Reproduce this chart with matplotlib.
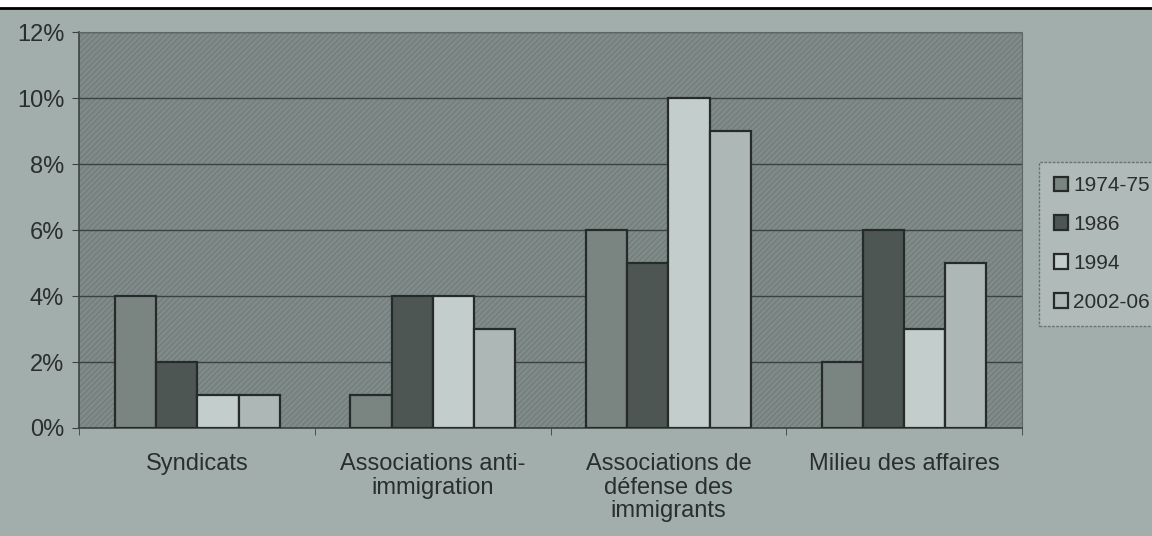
import matplotlib
matplotlib.use('Agg')
import matplotlib.pyplot as plt
from matplotlib.patches import Rectangle
import numpy as np

plt.rcParams['font.family'] = ['Liberation Sans', 'DejaVu Sans']

# données (%)
categories = ['Syndicats', 'Associations anti-\nimmigration',
              'Associations de\ndéfense des\nimmigrants', 'Milieu des affaires']
periods = ['1974-75', '1986', '1994', '2002-06']
v_1974 = [4, 1, 6, 2]
v_1986 = [2, 4, 5, 6]
v_1994 = [1, 4, 10, 3]
v_2002 = [1, 3, 9, 5]
series = [v_1974, v_1986, v_1994, v_2002]

bg = '#a2aeac'
plot_bg = '#808c8a'
bar_colors = ['#7a8582', '#4e5654', '#c3cdcb', '#adb8b6']
txt = '#2a2e2d'

fig = plt.figure(figsize=(11.52, 5.36), dpi=100, facecolor=bg)
ax = fig.add_axes([0.069, 0.2015, 0.818, 0.7385])
ax.set_facecolor(plot_bg)
# trame hachurée du fond
ax.add_patch(Rectangle((0, 0), 1, 1, transform=ax.transAxes, facecolor='none',
                       edgecolor='#737e7c', hatch='//////', linewidth=0, zorder=0))

x = np.arange(len(categories))
w = 0.175
for i, (vals, col) in enumerate(zip(series, bar_colors)):
    ax.bar(x + (i - 1.5) * w, vals, width=w, color=col, edgecolor='#262b2a',
           linewidth=1.6, label=periods[i], zorder=3)

ax.set_ylim(0, 12)
ax.set_xlim(-0.5, 3.5)
ax.set_yticks(range(0, 13, 2))
ax.set_yticklabels([f'{t}%' for t in range(0, 13, 2)], fontsize=17, color=txt)
ax.yaxis.grid(True, color='#3b4241', linewidth=1.0, zorder=1)
ax.set_axisbelow(True)

ax.set_xticks(x)
ax.set_xticklabels(categories, fontsize=17, color=txt, va='top', linespacing=1.1)
ax.tick_params(axis='x', length=0, pad=18)
ax.set_xticks(np.arange(-0.5, 4, 1), minor=True)
ax.tick_params(axis='x', which='minor', length=5, color='#3b4241')
ax.tick_params(axis='y', length=5, color='#3b4241', pad=6)

for s in ['top', 'right']:
    ax.spines[s].set_color('#5d6664')
    ax.spines[s].set_linestyle((0, (2, 1)))
for s in ['left', 'bottom']:
    ax.spines[s].set_color('#3b4241')
    ax.spines[s].set_linewidth(1.2)

leg = fig.legend(loc='center left', bbox_to_anchor=(0.902, 0.545), fontsize=15,
                 frameon=True, fancybox=False, handlelength=0.7, handleheight=0.7,
                 handletextpad=0.25, labelspacing=0.95, borderpad=0.7,
                 borderaxespad=0)
leg.get_frame().set_facecolor('#b4bfbd')
leg.get_frame().set_edgecolor('#5d6664')
leg.get_frame().set_linestyle((0, (2, 1)))
for t in leg.get_texts():
    t.set_color(txt)

# bande claire et trait noir en haut de la photo
fig.add_artist(Rectangle((0, 0.985), 1, 0.015, transform=fig.transFigure,
                         facecolor='white', edgecolor='none'))
fig.add_artist(plt.Line2D([0, 1], [0.985, 0.985], transform=fig.transFigure,
                          color='black', linewidth=2))

fig.savefig('out.png', dpi=100, facecolor=bg)
